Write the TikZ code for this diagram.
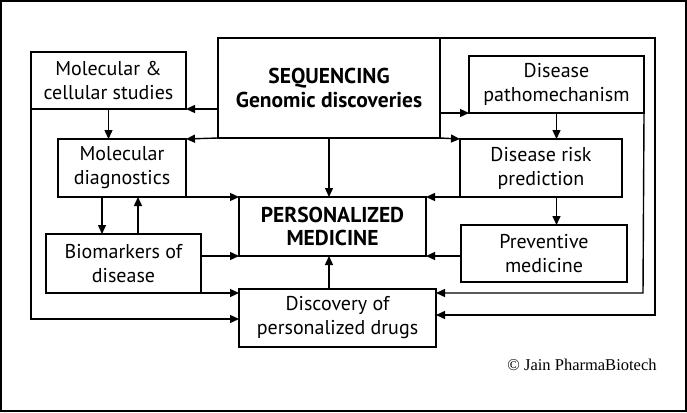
\documentclass[tikz,border=0pt]{standalone}
\usepackage{fontspec}
\setmainfont{PT Sans}
\newfontfamily\creditfont{Liberation Serif}
\usetikzlibrary{arrows.meta}
\begin{document}
\begin{tikzpicture}[x=1pt,y=-1pt,
  box/.style={draw, line width=1.6pt, inner sep=0pt, outer sep=0pt, anchor=north west, align=center, font=\fontsize{20}{24}\selectfont},
  link/.style={line width=1.4pt, -{Triangle[length=9pt,width=8pt]}}]
\useasboundingbox (0,0) rectangle (687,412);
\draw[line width=2pt] (1,1) rectangle (686,411);
\node[box, minimum width=222, minimum height=100, font=\fontsize{21.5}{24}\selectfont\bfseries] (seq) at (218,38){SEQUENCING\\Genomic discoveries};
\node[box, minimum width=155, minimum height=57] (mcs) at (31,52){Molecular \&\\cellular studies};
\node[box, minimum width=175, minimum height=57] (dpm) at (469,56){Disease\\pathomechanism};
\node[box, minimum width=128, minimum height=58] (mdx) at (58,139){Molecular\\diagnostics};
\node[box, minimum width=162, minimum height=58] (drp) at (460,139){Disease risk\\prediction};
\node[box, minimum width=187, minimum height=59, line width=2.2pt, font=\fontsize{21.5}{23}\selectfont\bfseries] (pmed) at (239,197){PERSONALIZED\\MEDICINE};
\node[box, minimum width=166, minimum height=57] (prev) at (461,225){Preventive\\medicine};
\node[box, minimum width=155, minimum height=59] (bio) at (46,234){Biomarkers of\\disease};
\node[box, minimum width=197, minimum height=58] (disc) at (239,289){Discovery of\\personalized drugs};
\node[font=\creditfont\fontsize{16.5}{18}\selectfont] (credit) at (582,365){© Jain PharmaBiotech};
\coordinate (lturn) at (31,319);
\coordinate (rturn) at (643,293);
\coordinate (otop) at (655,38);
\coordinate (obot) at (655,315);
\draw[link](seq.west |- mcs.south) -- (mcs.south east);
\draw[link](seq.south west) -- (mdx.north east);
\draw[link](seq.east |- dpm.south) -- (dpm.south west);
\draw[link](seq.south east) -- (drp.north west);
\draw[link](seq.south) -- (seq.south |- pmed.north);
\draw[link](mcs.south) -- (mcs.south |- mdx.north);
\draw[link](dpm.south) -- (dpm.south |- drp.north);
\draw[link](dpm.south |- drp.south) -- (dpm.south |- prev.north);
\draw[link](mdx.south east) -- (pmed.north west);
\draw[link](drp.south west) -- (pmed.north east);
\draw[link](prev.west |- pmed.south) -- (pmed.south east);
\draw[link]([xshift=-20pt]mdx.south) -- ([xshift=-20pt]mdx.south |- bio.north);
\draw[link]([xshift=16pt]mdx.south |- bio.north) -- ([xshift=16pt]mdx.south);
\draw[link](bio.east |- pmed.south) -- (pmed.south west);
\draw[link](bio.south east) -- (bio.south east -| disc.west);
\draw[link](seq.south |- disc.north) -- (seq.south |- pmed.south);
\draw[link](mcs.south west) -- (lturn) -- (lturn -| disc.west);
\draw[link](dpm.south east) -- (rturn) -- (rturn -| disc.east);
\draw[link](seq.north east) -- (otop) -- (obot) -- (obot -| disc.east);
\end{tikzpicture}
\end{document}
